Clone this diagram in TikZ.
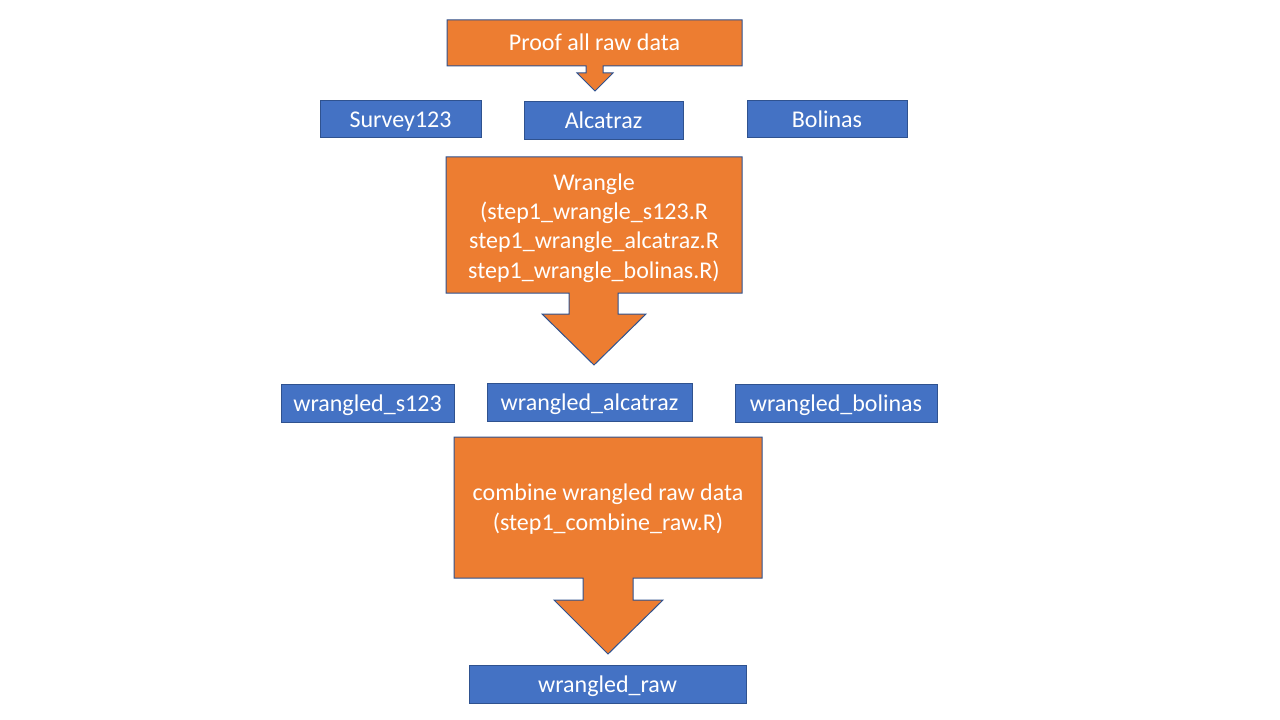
\documentclass[tikz,border=0pt]{standalone}
\usepackage{fontspec}
\setmainfont{Carlito}
\usepackage{xcolor}
\definecolor{boxblue}{HTML}{4472C4}
\definecolor{calloutorange}{HTML}{ED7D31}
\definecolor{edgeblue}{HTML}{2F528F}

\begin{document}
\begin{tikzpicture}[x=0.75pt, y=-0.75pt,
    databox/.style={draw=edgeblue, line width=0.75pt, fill=boxblue, text=white,
        inner sep=0pt, text height=17pt, text depth=5pt, font=\fontsize{18}{22}\selectfont},
    callout/.style={draw=edgeblue, line width=0.75pt, fill=calloutorange, line join=miter},
    callouttext/.style={text=white, align=center, inner sep=0pt,
        font=\fontsize{18}{22}\selectfont}]
    \useasboundingbox (0,0) rectangle (1280,720);

    % proof step
    \draw[callout] (447,20) -- (742,20) -- (742,66) -- (603,66) -- (603,73) -- (613,73)
        -- (595,91) -- (577,73) -- (586,73) -- (586,66) -- (447,66) -- cycle;
    \node[callouttext, text height=17pt, text depth=5pt] (proof) at (594.5,43) {Proof all raw data};

    \node[databox, minimum width=120.75pt, minimum height=27.75pt] (survey) at (400.5,119.5) {Survey123};
    \node[databox, minimum width=119.25pt, minimum height=28.5pt] (alcatraz) at (603.5,121) {Alcatraz};
    \node[databox, minimum width=120pt, minimum height=27.75pt] (bolinas) at (827,119.5) {Bolinas};

    % wrangle step
    \draw[callout] (446,157) -- (742,157) -- (742,293) -- (618,293) -- (618,314) -- (646,314)
        -- (594,365) -- (542,314) -- (569,314) -- (569,293) -- (446,293) -- cycle;
    \node[callouttext] (wrangle) at (594,228) {Wrangle\\(step1\_wrangle\_s123.R\\step1\_wrangle\_alcatraz.R\\step1\_wrangle\_bolinas.R)};

    \node[databox, minimum width=129.75pt, minimum height=28.5pt] (ws123) at (367.5,403) {wrangled\_s123};
    \node[databox, minimum width=153.75pt, minimum height=28.5pt] (walcatraz) at (589.5,402) {wrangled\_alcatraz};
    \node[databox, minimum width=151.5pt, minimum height=28.5pt] (wbolinas) at (836,403) {wrangled\_bolinas};

    % combine step
    \draw[callout] (454,437) -- (762,437) -- (762,578) -- (633,578) -- (633,600) -- (663,600)
        -- (608,654) -- (554,600) -- (583,600) -- (583,578) -- (454,578) -- cycle;
    \node[callouttext] (combine) at (608,509) {combine wrangled raw data\\(step1\_combine\_raw.R)};

    \node[databox, minimum width=207.75pt, minimum height=28.5pt] (wraw) at (607.5,684) {wrangled\_raw};
\end{tikzpicture}
\end{document}
